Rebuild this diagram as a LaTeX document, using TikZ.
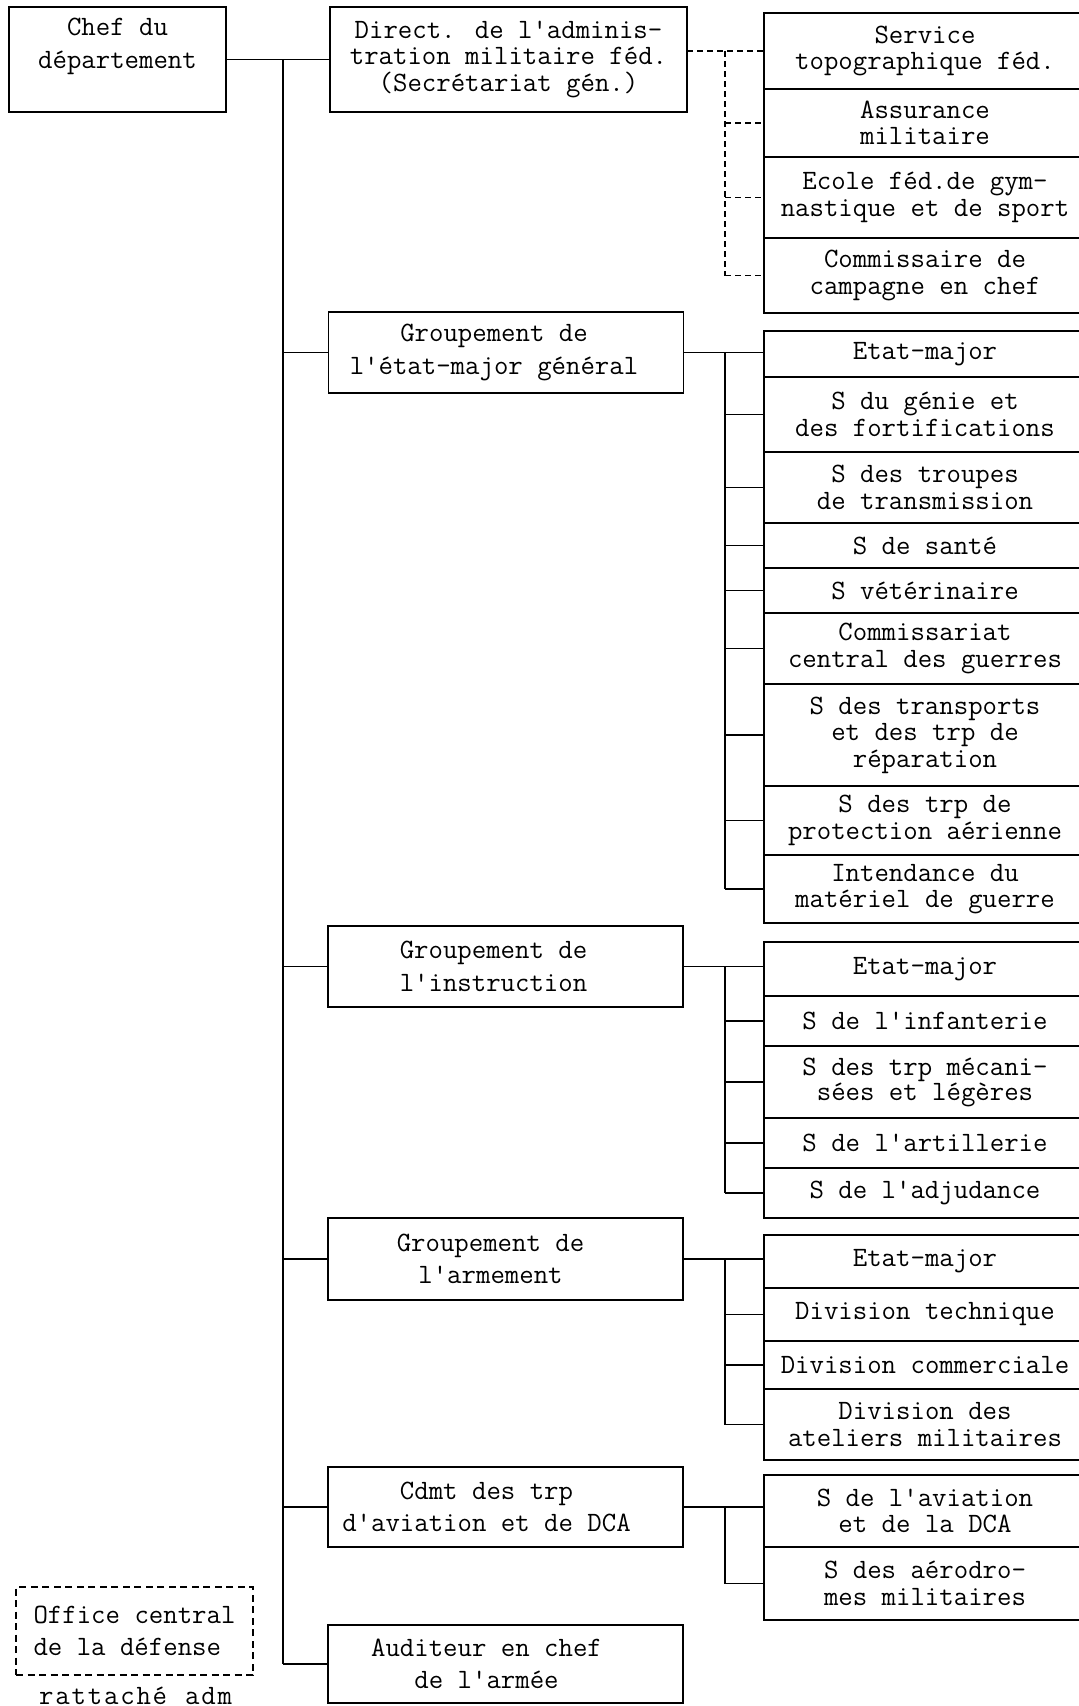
\documentclass[tikz,border=0pt]{standalone}
\usepackage{fontspec}
\newcommand\tw{\ttfamily}
\begin{document}
\begin{tikzpicture}[x=1pt,y=-1pt,
  box/.style={draw, line width=1.6pt, rectangle, inner sep=0pt, outer sep=0pt},
  txt/.style={font=\tw\fontsize{28}{26.5}\selectfont, align=center, inner sep=0pt},
  ctxt/.style={txt, font=\tw\fontsize{28}{32.5}\selectfont},
  rbox/.style={box, txt, minimum width=322},
  mbox/.style={box, minimum width=355},
  conn/.style={line width=1.6pt},
  dconn/.style={line width=1.6pt, dash pattern=on 6pt off 4pt},
]
\useasboundingbox (0,0) rectangle (1079,1706);
\clip (0,0) rectangle (1079,1706);
\fill[white] (0,0) rectangle (1079,1706);

% left and middle column
\node[box, minimum width=217, minimum height=105,
  label={[ctxt, yshift=13pt]center:{Chef du\\département}}] (chef) at (117.5,59.5) {};
\node[box, txt, minimum width=357, minimum height=105] (direct) at (508.5,59.5)
  {Direct. de l'adminis-\\tration militaire féd.\\(Secrétariat gén.)};
\node[mbox, minimum height=81,
  label={[ctxt, xshift=-12pt]center:{Groupement de\\l'état-major général}}] (emg) at (506,352.5) {};
\node[mbox, minimum height=81,
  label={[ctxt, xshift=-12pt]center:{Groupement de\\l'instruction}}] (instr) at (505.5,966.5) {};
\node[mbox, minimum height=82,
  label={[ctxt, xshift=-15pt]center:{Groupement de\\l'armement}}] (arm) at (505.5,1259) {};
\node[mbox, minimum height=80,
  label={[ctxt, xshift=-19pt]center:{Cdmt des trp\\d'aviation et de DCA}}] (cdmt) at (505.5,1507) {};
\node[mbox, minimum height=78,
  label={[ctxt, xshift=-19pt]center:{Auditeur en chef\\de l'armée}}] (aud) at (505.5,1664) {};

\node[draw, line width=1.6pt, dash pattern=on 7pt off 4.5pt, inner sep=0pt,
  minimum width=237, minimum height=88, ctxt, align=left] (office) at (134.5,1631)
  {Office central\\de la défense};
\node[txt, anchor=base west] (ratt) at (39,1704)
  {r\kern1.8pt a\kern1.8pt t\kern1.8pt t\kern1.8pt a\kern1.8pt c\kern1.8pt h\kern1.8pt é\kern1.8pt\ \kern1.8pt a\kern1.8pt d\kern1.8pt m};

% right column, group A
\node[rbox, minimum height=76] (svc) at (925,51) {Service\\topographique féd.};
\node[rbox, minimum height=68] (ass) at (925,123) {Assurance\\militaire};
\node[rbox, minimum height=81] (eco) at (925,197.5) {Ecole féd.de gym-\\nastique et de sport};
\node[rbox, minimum height=75] (com) at (925,275.5) {Commissaire de\\campagne en chef};

% group B
\node[rbox, minimum height=46] (b1) at (925,354) {Etat-major};
\node[rbox, minimum height=75] (b2) at (925,414.5) {S du génie et\\des fortifications};
\node[rbox, minimum height=71] (b3) at (925,487.5) {S des troupes\\de transmission};
\node[rbox, minimum height=45] (b4) at (925,545.5) {S de santé};
\node[rbox, minimum height=45] (b5) at (925,590.5) {S vétérinaire};
\node[rbox, minimum height=71] (b6) at (925,648.5) {Commissariat\\central des guerres};
\node[rbox, minimum height=102] (b7) at (925,735) {S des transports\\et des trp de\\réparation};
\node[rbox, minimum height=69] (b8) at (925,820.5) {S des trp de\\protection aérienne};
\node[rbox, minimum height=68] (b9) at (925,889) {Intendance du\\matériel de guerre};

% group C
\node[rbox, minimum height=54] (c1) at (925,969) {Etat-major};
\node[rbox, minimum height=50] (c2) at (925,1021) {S de l'infanterie};
\node[rbox, minimum height=72, font=\tw\fontsize{28}{25}\selectfont] (c3) at (925,1082) {S des trp mécani-\\sées et légères};
\node[rbox, minimum height=50] (c4) at (925,1143) {S de l'artillerie};
\node[rbox, minimum height=50] (c5) at (925,1193) {S de l'adjudance};

% group D
\node[rbox, minimum height=53] (d1) at (925,1261.5) {Etat-major};
\node[rbox, minimum height=53] (d2) at (925,1314.5) {Division technique};
\node[rbox, minimum height=48] (d3) at (925,1365) {Division commerciale};
\node[rbox, minimum height=71] (d4) at (925,1424.5) {Division des\\ateliers militaires};

% group E
\node[rbox, minimum height=72] (e1) at (925,1511) {S de l'aviation\\et de la DCA};
\node[rbox, minimum height=73] (e2) at (925,1583.5) {S des aérodro-\\mes militaires};

% connectors
\coordinate (trunk) at (283,0);
\coordinate (bus) at (725,0);
\draw[conn] (chef.east) -- (direct.west);
\draw[conn] (trunk |- chef.east) -- (trunk |- aud.west);
\foreach \n in {emg,instr,arm,cdmt,aud} \draw[conn] (trunk |- \n.west) -- (\n.west);

\draw[dconn] (direct.east |- svc.west) -- (svc.west);
\draw[dconn] (bus |- svc.west) -- (bus |- com.west);
\foreach \n in {ass,eco,com} \draw[dconn] (bus |- \n.west) -- (\n.west);

\draw[conn] (emg.east) -- (emg.east -| b1.west);
\draw[conn] (bus |- emg.east) -- (bus |- b9.west);
\foreach \n in {b2,b3,b4,b5,b6,b7,b8,b9} \draw[conn] (bus |- \n.west) -- (\n.west);

\draw[conn] (instr.east) -- (instr.east -| c1.west);
\draw[conn] (bus |- instr.east) -- (bus |- c5.west);
\foreach \n in {c2,c3,c4,c5} \draw[conn] (bus |- \n.west) -- (\n.west);

\draw[conn] (arm.east) -- (arm.east -| d1.west);
\draw[conn] (bus |- arm.east) -- (bus |- d4.west);
\foreach \n in {d2,d3,d4} \draw[conn] (bus |- \n.west) -- (\n.west);

\draw[conn] (cdmt.east) -- (cdmt.east -| e1.west);
\draw[conn] (bus |- cdmt.east) -- (bus |- e2.west);
\draw[conn] (bus |- e2.west) -- (e2.west);
\end{tikzpicture}
\end{document}
